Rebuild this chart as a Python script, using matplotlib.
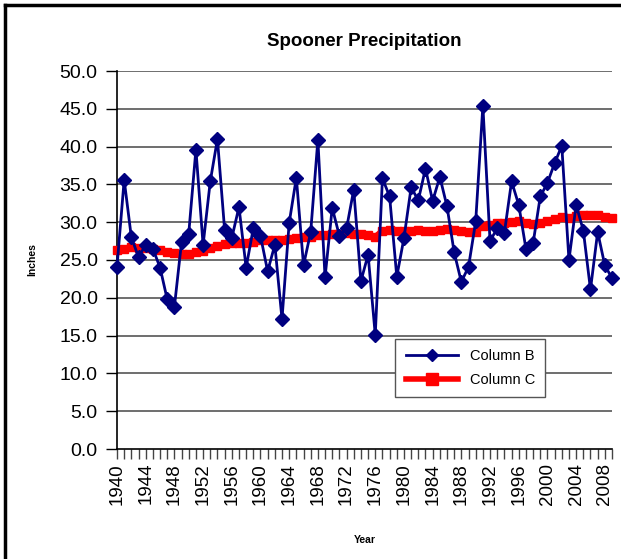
import matplotlib.pyplot as plt
from matplotlib.lines import Line2D

plt.rcParams['font.family'] = ['Liberation Sans', 'DejaVu Sans']

years = list(range(1940, 2010))

# Column B - annual precipitation (inches)
column_b = [24.1, 35.6, 28.0, 25.4, 27.0, 26.5, 24.0, 19.8, 18.8, 27.4,
            28.5, 39.6, 27.0, 35.4, 41.0, 29.0, 27.9, 32.0, 24.0, 29.2,
            28.2, 23.5, 27.0, 17.2, 29.9, 35.9, 24.3, 28.7, 40.9, 22.7,
            31.9, 28.2, 29.2, 34.3, 22.2, 25.7, 15.1, 35.8, 33.4, 22.8,
            27.9, 34.6, 32.9, 37.1, 32.8, 36.0, 32.1, 26.0, 22.1, 24.1,
            30.1, 45.4, 27.5, 29.2, 28.6, 35.4, 32.3, 26.5, 27.2, 33.4,
            35.2, 37.8, 40.1, 25.0, 32.3, 28.9, 21.1, 28.7, 24.3, 22.6]

# Column C - trend
column_c = [26.3, 26.5, 26.7, 26.6, 26.6, 26.5, 26.3, 26.1, 25.9, 25.8,
            25.8, 26.1, 26.2, 26.6, 26.9, 27.1, 27.2, 27.2, 27.2, 27.4,
            27.6, 27.6, 27.7, 27.6, 27.8, 27.9, 28.0, 28.1, 28.3, 28.3,
            28.4, 28.5, 28.6, 28.5, 28.5, 28.3, 28.1, 28.9, 29.0, 28.9,
            28.8, 28.9, 29.0, 28.9, 28.8, 29.0, 29.1, 29.0, 28.8, 28.7,
            28.7, 29.5, 29.6, 29.9, 29.9, 30.0, 30.1, 29.9, 29.7, 29.9,
            30.2, 30.4, 30.7, 30.6, 30.8, 30.9, 31.0, 30.9, 30.7, 30.6]

yticks = [0, 5, 10, 15, 20, 25, 30, 35, 40, 45, 50]

fig = plt.figure(figsize=(6.21, 5.59), dpi=100)
ax = fig.add_axes([117/621, 1 - 449/559, 495/621, 378/559])

for y in yticks[1:]:
    ax.axhline(y, color='#555555', lw=1.2, zorder=1)

ax.plot(years, column_c, color='#FF0000', lw=4, marker='s', ms=6,
        label='Column C', zorder=3, clip_on=False)
ax.plot(years, column_b, color='#000080', lw=2, marker='D', ms=7,
        label='Column B', zorder=4, clip_on=False)

ax.set_xlim(1940, 2009)
ax.set_ylim(0, 50)
ax.set_yticks(yticks)
ax.set_yticklabels(['%.1f' % v for v in yticks], fontsize=14)
ax.set_xticks(years, minor=True)
ax.set_xticks(years[::4])
ax.set_xticklabels([str(y) for y in years[::4]], rotation=90, fontsize=13.5)
ax.tick_params(axis='x', which='both', length=7, width=1, color='#444444', pad=3)
ax.tick_params(axis='y', length=8, width=1, pad=6)

for s in ['top', 'right']:
    ax.spines[s].set_visible(False)
ax.spines['left'].set_linewidth(1.2)
ax.spines['bottom'].set_linewidth(1.2)

ax.set_title('Spooner Precipitation', fontsize=13.5, fontweight='bold', pad=18)
ax.set_ylabel('Inches', fontsize=7.5, fontweight='bold', labelpad=16)
ax.set_xlabel('Year', fontsize=7.5, fontweight='bold', labelpad=22)

handles = [Line2D([], [], color='#000080', lw=2, marker='D', ms=6),
           Line2D([], [], color='#FF0000', lw=4, marker='s', ms=8)]
leg = ax.legend(handles, ['Column B', 'Column C'], loc='upper left',
                bbox_to_anchor=(271/495, (449 - 332)/378), fontsize=10.5,
                frameon=True, fancybox=False, edgecolor='#555555',
                framealpha=1, borderpad=0.7, handlelength=3.6,
                labelspacing=0.65)
leg.get_frame().set_linewidth(1)

# chart border (left and top visible in reference)
fig.add_artist(Line2D([5/621, 5/621], [0, 1 - 5/559], color='black', lw=2.5,
                      transform=fig.transFigure))
fig.add_artist(Line2D([5/621, 1], [1 - 5/559, 1 - 5/559], color='black', lw=2.5,
                      transform=fig.transFigure))

fig.savefig('out.png', dpi=100)
